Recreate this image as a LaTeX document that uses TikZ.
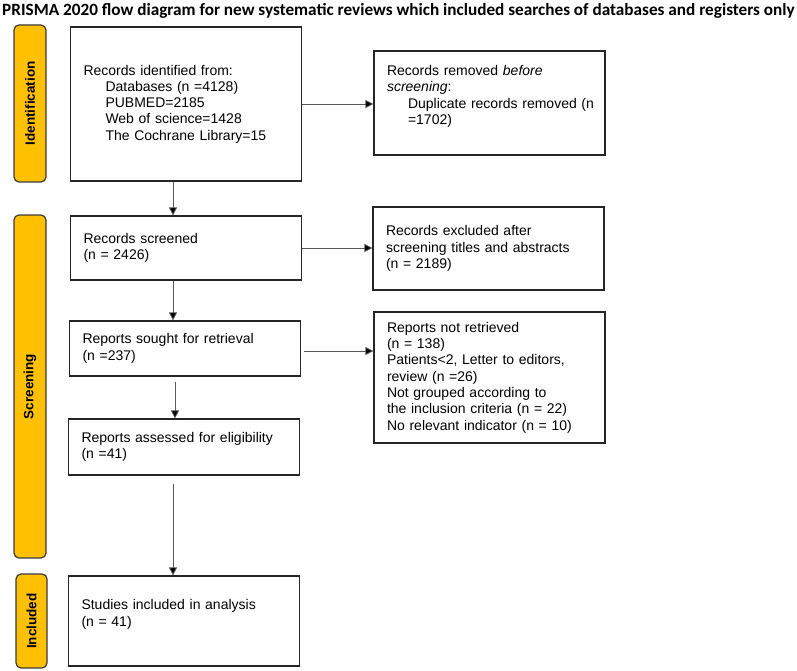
\documentclass[tikz,border=0pt]{standalone}
\usepackage{fontspec}
\setmainfont{Liberation Sans}
\newfontfamily\titlefont{Carlito}
\usetikzlibrary{arrows.meta}

\definecolor{prismagold}{HTML}{FFC000}
\definecolor{edgegray}{HTML}{3A3A3A}

\tikzset{
  stage/.style={draw=edgegray, fill=prismagold, line width=1.2pt, rounded corners=5pt,
    rotate=90, minimum height=32pt, inner sep=0pt, font=\bfseries\fontsize{13.5}{15}\selectfont},
  box/.style={draw=black!85, line width=1.2pt, text width=205pt, inner xsep=13pt,
    align=left, font=\fontsize{14}{16.3}\selectfont},
  flow/.style={draw=black!65, line width=0.8pt, -{Triangle[length=8pt,width=8pt,fill=black]}}
}

\begin{document}
\begin{tikzpicture}[x=1pt, y=-1pt]
  \useasboundingbox (0,0) rectangle (797,671);

  % Titulo
  \node (title) at (398.5,11) {\titlefont\bfseries\fontsize{17.2}{19}\selectfont PRISMA 2020 flow diagram for new systematic reviews which included searches of databases and registers only};

  % Etapas
  \node[stage, minimum width=157pt] (idstage) at (30,103.5) {Identification};
  \node[stage, minimum width=343pt] (scstage) at (30,386.5) {Screening};
  \node[stage, minimum width=94pt, minimum height=31pt] (instage) at (31.5,621) {Included};

  % Cajas
  \node[box, minimum height=154pt] (ident) at (186,104) {Records identified from:\\
    \hspace*{22pt}Databases (n =4128)\\
    \hspace*{22pt}PUBMED=2185\\
    \hspace*{22pt}Web of science=1428\\
    \hspace*{22pt}The Cochrane Library=15};
  \node[box, minimum height=104pt] (removed) at (489.5,103) {Records removed \textit{before}\\
    \textit{screening}:\\
    \mbox{\hspace*{21pt}Duplicate records removed (n}\\
    \hspace*{21pt}=1702)\\ \mbox{}};
  \node[box, minimum height=64pt] (screened) at (186,248) {Records screened\\(n = 2426)};
  \node[box, minimum height=83pt] (excluded) at (488.5,248.5) {Records excluded after\\
    screening titles and abstracts\\(n = 2189)};
  \node[box, minimum height=55pt] (sought) at (185,348.5) {Reports sought for retrieval\\(n =237)};
  \node[box, minimum height=131pt] (notret) at (489.5,377.5) {Reports not retrieved\\
    (n = 138)\\
    Patients<2, Letter to editors,\\
    review (n =26)\\
    Not grouped according to\\
    the inclusion criteria (n = 22)\\
    No relevant indicator (n = 10)};
  \node[box, minimum height=56pt] (assessed) at (184,447) {Reports assessed for eligibility\\(n =41)};
  \node[box, minimum height=90pt] (included) at (184,621) {Studies included in analysis\\(n = 41)\\ \mbox{}};

  % Flechas
  \draw[flow] (ident.east) -- (ident.east -| removed.west);
  \draw[flow] ([xshift=-13pt]ident.south) -- ([xshift=-13pt]ident.south |- screened.north);
  \draw[flow] (screened.east) -- (screened.east -| excluded.west);
  \draw[flow] ([xshift=-13pt]screened.south) -- ([xshift=-13pt]screened.south |- sought.north);
  \draw[flow] ([xshift=3pt,yshift=-2.5pt]sought.east) -- ([yshift=-2.5pt]sought.east -| notret.west);
  \draw[flow] ([xshift=-10pt,yshift=-5pt]sought.south) -- ([xshift=-10pt]sought.south |- assessed.north);
  \draw[flow] ([xshift=-11pt,yshift=-8pt]assessed.south) -- ([xshift=-11pt]assessed.south |- included.north);
\end{tikzpicture}
\end{document}
